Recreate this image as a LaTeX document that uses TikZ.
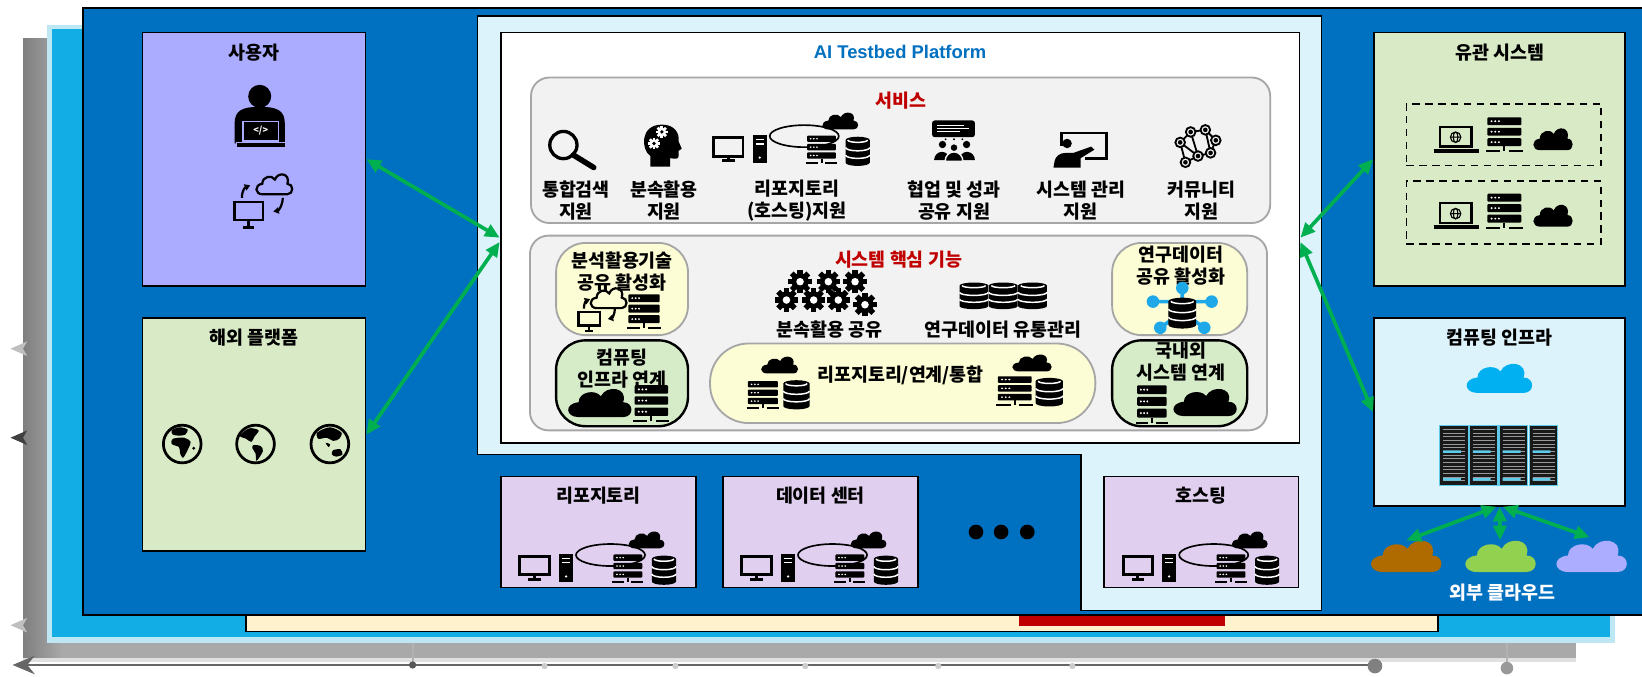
\documentclass[tikz,border=0pt]{standalone}
\usepackage{fontspec}
\setmainfont{Noto Sans CJK KR}
\newfontfamily\latinfont{Liberation Sans}
\usetikzlibrary{arrows.meta,positioning}

\definecolor{panelblue}{HTML}{0070C0}
\definecolor{layercyan}{HTML}{12ADE5}
\definecolor{layeredge}{HTML}{BDE8F3}
\definecolor{layergray}{HTML}{A9A9A9}
\definecolor{platbg}{HTML}{DDF3FC}
\definecolor{svcgray}{HTML}{F2F2F2}
\definecolor{rimgray}{HTML}{A6A6A6}
\definecolor{lav}{HTML}{ABABFF}
\definecolor{paleg}{HTML}{D9EBC6}
\definecolor{pillyel}{HTML}{FDFDD5}
\definecolor{pillgrn}{HTML}{D6ECC9}
\definecolor{lilac}{HTML}{E1CFF0}
\definecolor{cream}{HTML}{FFF2CC}
\definecolor{darkred}{HTML}{C00000}
\definecolor{arrgreen}{HTML}{00B050}
\definecolor{skyblue}{HTML}{00B0F0}
\definecolor{brownc}{HTML}{AF6A00}
\definecolor{limec}{HTML}{92D050}
\definecolor{lavc}{HTML}{ADADFF}
\definecolor{netblue}{HTML}{1EA8E8}
\definecolor{rackline}{HTML}{5FC9EA}

\tikzset{
  box/.style={draw, line width=1pt, inner sep=0pt},
  ttl/.style={font=\bfseries\fontsize{10}{12}\selectfont, inner sep=0pt},
  lbl/.style={font=\bfseries\fontsize{10}{12}\selectfont, align=center, inner sep=0pt},
  pill/.style={draw=rimgray, line width=1pt, fill=pillyel, rounded corners=16pt, inner sep=0pt},
  gpill/.style={pill, draw=black, line width=1.3pt, fill=pillgrn},
  garrow/.style={draw=arrgreen, line width=2pt,
    {Triangle[length=8pt,width=7pt]}-{Triangle[length=8pt,width=7pt]}},
  cl/.style={fill=black},
  gearc/.style={fill=black},
  holec/.style={fill=white},
  % rack server
  srvic/.pic={
    \foreach \k in {0,1,2}{
      \fill[rounded corners=0.5pt] (-12,-14+8*\k) rectangle (12,-8+8*\k);
      \foreach \d in {0,1,2}
        \fill[white] (-9+2.6*\d,-11+8*\k) circle (0.8);
    }
    \draw[line width=1.1pt] (0,8) -- (0,12) (-13,12) -- (-3,12) (3,12) -- (13,12);
  },
  % database cylinder
  dbic/.pic={
    \fill (-11,-12) -- (-11,12) arc[start angle=180,end angle=0,x radius=11,y radius=3.5]
      -- (11,-12) arc[start angle=0,end angle=-180,x radius=11,y radius=3.5] -- cycle;
    \draw[white,line width=0.8pt]
      (-11,-4) arc[start angle=180,end angle=0,x radius=11,y radius=3.5]
      (-11,4) arc[start angle=180,end angle=0,x radius=11,y radius=3.5]
      (-9,-12) arc[start angle=180,end angle=0,x radius=9,y radius=2.5];
  },
  cloudic/.pic={
    \path[cl] (-11,9) .. controls (-18,9) and (-19,0) .. (-11,-1)
      .. controls (-11,-8) and (-2,-10) .. (1,-5)
      .. controls (4,-13) and (16,-11) .. (13,-1)
      .. controls (19,-1) and (19,9) .. (13,9) -- cycle;
  },
  gearic/.pic={
    \foreach \a in {0,45,...,315}
      \fill[gearc,rotate=\a] (-1.3,3.2) rectangle (1.3,5.6);
    \fill[gearc] (0,0) circle (4.1);
    \fill[holec] (0,0) circle (1.8);
  },
  pcic/.pic={
    \draw[line width=1.6pt] (-14,-10) rectangle (14,8);
    \draw[line width=1.6pt] (0,8) -- (0,12) (-6,12.5) -- (6,12.5);
  },
  towric/.pic={
    \fill (-6.5,-13.5) rectangle (6.5,13.5);
    \draw[white,line width=0.6pt] (-4,-9) -- (4,-9) (-4,-5) -- (4,-5);
    \fill[white] (0,8) circle (1.2);
  },
  repoic/.pic={
    \pic at (-61.5,1) {pcic};
    \pic at (-31.5,2.5) {towric};
    \draw[line width=0.9pt] (11,-10) ellipse [x radius=33, y radius=10.5];
    \pic[xscale=1.15,yscale=1.0] at (27.5,3.5) {srvic};
    \pic[xscale=1.05,yscale=0.9] at (62,4.5) {dbic};
    \pic[yscale=0.85] at (45,-24) {cloudic};
  },
  syncic/.pic={
    \draw[line width=1.4pt] (-26,1) rectangle (1,18);
    \draw[line width=1.4pt] (-12.5,18) -- (-12.5,24) (-18,25) -- (-7,25);
    \pic[cl/.style={draw, line width=1.2pt}] at (11.5,-15.5) {cloudic};
    \draw[line width=1.2pt, -{Triangle[length=3pt,width=3.5pt]}]
      (-19,-3) .. controls (-19,-10) and (-16,-13) .. (-11,-15);
    \draw[line width=1.2pt, -{Triangle[length=3pt,width=3.5pt]}]
      (20,-3) .. controls (20,4) and (16,9) .. (11,10);
  },
  lapic/.pic={
    \draw[line width=1.3pt] (-15,-10) rectangle (15,9);
    \draw[line width=2pt] (-21,13) -- (22,13);
    \draw[line width=0.6pt] (0,0) circle (5) (0,0) ellipse [x radius=2.2, y radius=5] (-5,0) -- (5,0);
  }
}

\begin{document}
\begin{tikzpicture}[x=0.02cm,y=-0.02cm]
\useasboundingbox (0,0) rectangle (1568,646);

% back layers and axis
\shade[left color=layergray!75!black, right color=layergray] (22,37) rectangle (60,628);
\fill[layergray] (60,37) rectangle (1505,628);
\fill[black!12] (22,628) rectangle (1505,632);
\draw[black!60, line width=1.6pt, -{Stealth[length=12pt,width=10pt,inset=4pt]}] (1313,635) -- (12,635);
\foreach \tx in {520,645,769,896,1024}
  \fill[black!20] (\tx,636) circle (3);
\draw[black!30, line width=1pt] (394,612) -- (394,635) (1439,612) -- (1439,636);
\fill[black!65] (394,635) circle (3.5);
\fill[black!50] (1313,636) circle (7);
\fill[black!40] (1439,638) circle (6);
\foreach \ay/\ac in {333/black!25,418/black!75,597/black!25}
  \fill[\ac] (10,\ay) -- (26,\ay-7) -- (22,\ay) -- (26,\ay+7) -- cycle;

\fill[layeredge] (45,24) rectangle (1542,614);
\fill[layercyan] (50,28) rectangle (1537,608);
\draw[line width=0.8pt, fill=cream] (235,560) rectangle (1373,603);
\fill[darkred] (973,585) rectangle (1170,598);
\draw[line width=1.2pt, fill=panelblue] (79,8) rectangle (1600,587);
\draw[line width=1pt, fill=platbg] (456,15) -- (1262,15) -- (1262,583) -- (1032,583)
  -- (1032,434) -- (456,434) -- cycle;

% side boxes
\node[box, fill=lav, minimum width=4.26cm, minimum height=4.84cm] (user) at (242.5,152) {};
\node[ttl] at ([yshift=-0.4cm]user.north) {사용자};
\node[box, fill=paleg, minimum width=4.26cm, minimum height=4.44cm] (abroad) at (242.5,415) {};
\node[ttl] at ([yshift=-0.38cm]abroad.north) {해외 플랫폼};
\node[box, fill=paleg, minimum width=4.8cm, minimum height=4.84cm] (related) at (1432,152) {};
\node[ttl] at ([yshift=-0.4cm]related.north) {유관 시스템};
\node[box, fill=platbg, minimum width=4.8cm, minimum height=3.58cm] (infra) at (1432,393.5) {};
\node[ttl] at ([yshift=-0.38cm]infra.north) {컴퓨팅 인프라};

% user: developer and sync
\begin{scope}[shift={(248,115)}]
  \fill (0,-23) circle (11);
  \fill (-24,22) -- (-24,3) .. controls (-24,-10) and (-16,-13) .. (0,-13)
    .. controls (16,-13) and (24,-10) .. (24,3) -- (24,22) -- cycle;
  \draw[lav, line width=1pt, fill=black] (-16,1) rectangle (18,20);
  \node[white, font=\bfseries\fontsize{5}{5}\selectfont, inner sep=0pt] at (1,10) {</>};
  \draw[lav, line width=1.2pt] (-23,21.5) -- (25,21.5);
  \draw[line width=2pt] (-22,23.5) -- (24,23.5);
\end{scope}
\pic at (250,192) {syncic};

% globes
\foreach \gx in {174,244,315}
  \draw[line width=1.5pt, fill=paleg] (\gx,424) circle (18);
\begin{scope}[shift={(174,424)}]
  \fill plot[smooth cycle] coordinates {(-10,-13) (-3,-16) (5,-14) (3,-9) (-3,-8) (-9,-9)};
  \fill plot[smooth cycle] coordinates {(-9,-5) (2,-6) (8,-2) (6,4) (1,13) (-2,9) (-3,3) (-10,0)};
  \fill (11,4) circle (1.5);
\end{scope}
\begin{scope}[shift={(244,424)}]
  \fill plot[smooth cycle] coordinates {(-15,-8) (-6,-15) (3,-13) (-1,-7) (-4,-2) (-9,-5)};
  \fill plot[smooth cycle] coordinates {(-2,1) (5,2) (7,7) (1,16) (0,9) (-3,4)};
\end{scope}
\begin{scope}[shift={(315,424)}]
  \fill plot[smooth cycle] coordinates {(-12,-11) (0,-16) (11,-11) (9,-5) (3,-3) (-3,-6) (-11,-5)};
  \fill plot[smooth cycle] coordinates {(-4,-1) (0,0) (-1,3)};
  \fill plot[smooth cycle] coordinates {(3,6) (10,5) (12,10) (6,12) (2,10)};
\end{scope}

% related systems
\node[draw, dashed, dash pattern=on 4pt off 3pt, line width=1pt, minimum width=3.72cm, minimum height=1.18cm] (rel1) at (1436,128.5) {};
\node[draw, dashed, dash pattern=on 4pt off 3pt, line width=1pt, minimum width=3.72cm, minimum height=1.2cm] (rel2) at (1436,203) {};
\foreach \ry in {131,204}{
  \pic at (1390,\ry) {lapic};
  \pic[xscale=1.35,yscale=1.25] at (1436.5,\ry-1.5) {srvic};
  \pic[scale=1.1] at (1482.5,\ry+2.5) {cloudic};
}

% computing infra
\pic[xscale=1.83,yscale=1.47,cl/.style={fill=skyblue}] at (1431,362) {cloudic};
\foreach \i in {0,...,3}{
  \begin{scope}[shift={(1375+\i*28.5,406)}]
    \draw[rackline, fill=black!90, line width=0.6pt] (0,0) rectangle (27,58);
    \foreach \yy in {4,7.5,...,56}
      \draw[gray!80, line width=0.4pt] (3,\yy) -- (24,\yy);
    \fill[rackline] (3,24) rectangle (20,26.5) (3,50.5) rectangle (20,53);
  \end{scope}
}

% external clouds
\pic[xscale=1.97,yscale=1.58,cl/.style={fill=brownc}] at (1342,532) {cloudic};
\pic[xscale=1.97,yscale=1.58,cl/.style={fill=limec}] at (1432,532) {cloudic};
\pic[xscale=1.97,yscale=1.58,cl/.style={fill=lavc}] at (1519,532) {cloudic};
\coordinate (extA) at (1343,516);
\coordinate (extB) at (1432.5,516);
\coordinate (extC) at (1518,513);
\node[ttl, text=white] at (1435,566) {외부 클라우드};

% platform
\node[box, fill=white, minimum width=15.26cm, minimum height=7.84cm] (platform) at (859.5,227) {};
\node[font=\latinfont\bfseries\fontsize{10}{12}\selectfont, text=panelblue, inner sep=0pt]
  at ([yshift=-0.38cm]platform.north) {AI Testbed Platform};

% services
\node[draw=rimgray, line width=1pt, fill=svcgray, rounded corners=10pt, inner sep=0pt,
  minimum width=14.12cm, minimum height=2.78cm] (svc) at (860,143.5) {};
\node[ttl, text=darkred] at ([yshift=-0.46cm]svc.north) {서비스};

\draw[line width=1.8pt] (538,138.5) circle (13);
\draw[line width=3pt, line cap=round] (547.5,148) -- (567,160);

\begin{scope}[shift={(632,139)}]
  \fill (-11,20) -- (-11,10) .. controls (-20,4) and (-21,-20) .. (0,-20)
    .. controls (13,-20) and (17,-11) .. (16,-4) -- (19,3) -- (16,5) -- (16,10)
    .. controls (16,13) and (13,13) .. (8,12) -- (8,20) -- cycle;
  \pic[gearc/.style={fill=white}, holec/.style={fill=black}] at (0,-13) {gearic};
  \pic[gearc/.style={fill=white}, holec/.style={fill=black}] at (-7.5,-2) {gearic};
\end{scope}

\pic at (757,140) {repoic};

\begin{scope}[shift={(911,134)}]
  \fill[rounded corners=1.5pt] (-21,-19) rectangle (20,-3);
  \draw[white, line width=0.5pt] (-16,-14) -- (10,-14) (-16,-11) -- (14,-11) (-16,-8) -- (6,-8);
  \foreach \dx in {-8,0,8}
    \fill (\dx,-1) circle (1);
  \fill (-11,4) circle (3.5) (12,4) circle (3.5);
  \fill (-19,19) arc[start angle=180,end angle=360,x radius=7.5,y radius=8] -- cycle;
  \fill (5,19) arc[start angle=180,end angle=360,x radius=7.5,y radius=8] -- cycle;
  \draw[svcgray, line width=0.8pt, fill=black] (0,7) circle (4);
  \draw[svcgray, line width=0.8pt, fill=black] (-8.5,20) arc[start angle=180,end angle=360,x radius=8.5,y radius=9] -- cycle;
\end{scope}

\begin{scope}[shift={(1032,143)}]
  \draw[line width=1.6pt] (-18,-4) -- (-18,-16) -- (25,-16) -- (25,8) -- (4,8);
  \fill (-13,-6) circle (4.5);
  \fill (-26,17) -- (-25,11) .. controls (-24,6) and (-20,3) .. (-14,3) -- (-7,3)
    -- (10,-3) -- (13,0) -- (0,8) -- (0,17) -- cycle;
\end{scope}

\begin{scope}[shift={(1143,140)}]
  \draw[line width=1pt] (-16,-4) -- (-6,-14) -- (8,-16) -- (18,-6) -- (13,6) -- (1,9)
    -- (-11,15) -- (-16,-4) (-6,-14) -- (1,9) (8,-16) -- (13,6) (-16,-4) -- (1,9);
  \foreach \p in {(-16,-4),(-6,-14),(8,-16),(18,-6),(13,6),(1,9),(-11,15)}{
    \draw[line width=1pt, fill=svcgray] \p circle (4.6);
    \fill \p circle (2.2);
  }
\end{scope}

\node[lbl] (lSearch) at (550,191.5) {통합검색\\지원};
\node[lbl] (lAnal) at (634,191.5) {분속활용\\지원};
\node[lbl] (lRepo) at (761,191.5) {리포지토리\\(호스팅)지원};
\node[lbl] (lColl) at (911,191.5) {협업 및 성과\\공유 지원};
\node[lbl] (lSys) at (1032,191.5) {시스템 관리\\지원};
\node[lbl] (lComm) at (1147,191.5) {커뮤니티\\지원};

% core functions
\node[draw=rimgray, line width=1pt, fill=svcgray, rounded corners=10pt, inner sep=0pt,
  minimum width=14.08cm, minimum height=3.72cm] (core) at (858,318) {};
\node[ttl, text=darkred] at (858,248) {시스템 핵심 기능};

\node[pill, minimum width=2.52cm, minimum height=1.76cm] (techShare) at (594,276) {};
\node[gpill, minimum width=2.52cm, minimum height=1.64cm] (infraLink) at (594,366) {};
\node[pill, minimum width=2.58cm, minimum height=1.76cm] (dataShare) at (1126.5,276) {};
\node[gpill, minimum width=2.58cm, minimum height=1.64cm] (sysLink) at (1126.5,366) {};
\node[pill, rounded corners=21pt, minimum width=7.36cm, minimum height=1.52cm] (repoLink) at (862,366) {};

\node[lbl] at (594,259) {분석활용기술\\공유 활성화};
\pic[scale=0.76] at (572,297) {syncic};
\pic[scale=1.25] at (615,298.5) {srvic};

\node[lbl] at (594,352) {컴퓨팅\\인프라 연계};
\pic[xscale=1.77,yscale=1.42] at (572,385.5) {cloudic};
\pic[scale=1.33] at (622,386.5) {srvic};

\node[lbl] at (1128,253.5) {연구데이터\\공유 활성화};
\begin{scope}[shift={(1129,298)}]
  \draw[netblue, line width=2pt] (0,-23) -- (0,0) (-28,-10) -- (28,-10) (-21,15) -- (0,0) -- (21,15);
  \foreach \p in {(0,-23),(-28,-10),(28,-10),(-21,15),(21,15)}
    \fill[netblue] \p circle (6);
  \pic[xscale=1.2,yscale=0.95] at (0,1) {dbic};
\end{scope}

\node[lbl] at (1128,345) {국내외\\시스템 연계};
\pic[xscale=1.17,yscale=1.4] at (1100,387.5) {srvic};
\pic[xscale=1.77,yscale=1.37] at (1150,385) {cloudic};

\foreach \gx/\gy in {764/269,791/269,816.5/269,751/286.5,777/286.5,800.5/286.5,826/291}
  \pic[scale=2] at (\gx,\gy) {gearic};
\node[lbl] at (792,315) {분속활용 공유};
\foreach \dx in {930,958,986}
  \pic[xscale=1.25,yscale=0.82] at (\dx,282.5) {dbic};
\node[lbl] at (958,315) {연구데이터 유통관리};

\node[lbl] at (860,358) {리포지토리/연계/통합};
\pic[xscale=1.03,yscale=0.85] at (744,349) {cloudic};
\pic[xscale=1.2,yscale=1.0] at (728.5,378) {srvic};
\pic[xscale=1.14,yscale=0.9] at (760.5,377) {dbic};
\pic[xscale=1.1,yscale=0.85] at (985,347) {cloudic};
\pic[xscale=1.35,yscale=1.05] at (969,374) {srvic};
\pic[xscale=1.18,yscale=0.88] at (1002,374.5) {dbic};

% bottom members
\node[box, fill=lilac, minimum width=3.74cm, minimum height=2.12cm] (repo) at (571.5,508) {};
\node[ttl] at ([yshift=-0.38cm]repo.north) {리포지토리};
\pic at (572,540) {repoic};
\node[box, fill=lilac, minimum width=3.74cm, minimum height=2.12cm] (dcenter) at (783.5,508) {};
\node[ttl] at ([yshift=-0.38cm]dcenter.north) {데이터 센터};
\pic at (784,540) {repoic};
\node[box, fill=lilac, minimum width=3.72cm, minimum height=2.12cm] (hosting) at (1147,508) {};
\node[ttl] at ([yshift=-0.38cm]hosting.north) {호스팅};
\pic at (1148,540) {repoic};
\foreach \dx in {932,956,981}
  \fill (\dx,508) circle (7);

% links
\draw[garrow] (user.east) -- (platform.west);
\draw[garrow] (abroad.east) -- ([yshift=-0.08cm]platform.west);
\draw[garrow] (platform.east) -- (related.west);
\draw[garrow] ([yshift=-0.08cm]platform.east) -- (infra.west);
\draw[garrow] ([xshift=-0.06cm]infra.south) -- (extA);
\draw[garrow] (infra.south) -- (extB);
\draw[garrow] ([xshift=0.06cm]infra.south) -- (extC);
\end{tikzpicture}
\end{document}
